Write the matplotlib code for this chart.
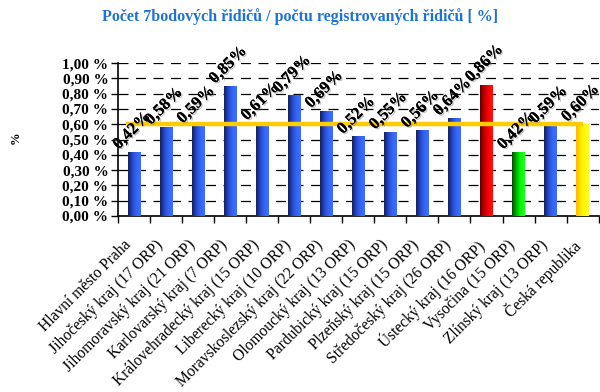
import matplotlib.pyplot as plt
import matplotlib.patheffects as pe
import numpy as np
from matplotlib.colors import LinearSegmentedColormap

regions = ['Hlavní město Praha', 'Jihočeský kraj (17 ORP)', 'Jihomoravský kraj (21 ORP)',
           'Karlovarský kraj (7 ORP)', 'Královehradecký kraj (15 ORP)', 'Liberecký kraj (10 ORP)',
           'Moravskoslezský kraj (22 ORP)', 'Olomoucký kraj (13 ORP)', 'Pardubický kraj (15 ORP)',
           'Plzeňský kraj (15 ORP)', 'Středočeský kraj (26 ORP)', 'Ústecký kraj (16 ORP)',
           'Vysočina (15 ORP)', 'Zlínský kraj (13 ORP)', 'Česká republika']
share = [0.42, 0.58, 0.59, 0.85, 0.61, 0.79, 0.69, 0.52, 0.55, 0.56, 0.64, 0.86, 0.42, 0.59, 0.60]
bar_style = ['blue'] * 11 + ['red', 'green', 'blue', 'yellow']

gradients = {
    'blue': ['#14205e', '#2748c4', '#3366ff', '#3d6eff'],
    'red': ['#600000', '#c00000', '#ff0000', '#ff1010'],
    'green': ['#004d00', '#00b000', '#00ff00', '#20ff20'],
    'yellow': ['#ffb800', '#ffe000', '#ffff00', '#ffff30'],
}

plt.rcParams['font.family'] = ['Liberation Serif', 'DejaVu Serif']

fig = plt.figure(figsize=(6, 3.92), dpi=100)
ax = fig.add_axes([0.1967, 0.449, 0.801, 0.39])

x = np.arange(len(regions))
bars = ax.bar(x, share, width=0.4, color='none', edgecolor='none', zorder=3)

# horizontal gradient inside each bar
ramp = np.linspace(0, 1, 64).reshape(1, -1)
for b, style in zip(bars, bar_style):
    cmap = LinearSegmentedColormap.from_list(style, gradients[style])
    x0, w, h = b.get_x(), b.get_width(), b.get_height()
    im = ax.imshow(ramp, cmap=cmap, extent=[x0, x0 + w, 0, h], aspect='auto', zorder=3)
    im.set_clip_path(b)

# national average line
ax.hlines(share[-1], -0.25, len(regions) - 1, color='#ffcc00', linewidth=3.2, zorder=4)

for xi, v in zip(x, share):
    ax.annotate(f'{v:.2f}%'.replace('.', ','), (xi, v), xytext=(-2, 21), textcoords='offset pixels',
                rotation=45, ha='center', va='center', fontsize=12, fontweight='bold',
                zorder=5, path_effects=[pe.withSimplePatchShadow(offset=(1, -1), shadow_rgbFace='gray', alpha=0.5),
                                        pe.Normal()])

# category names under the axis, rotated 45 degrees
for xi, name in zip(x, regions):
    ax.annotate(name, (xi, 0), xycoords=ax.get_xaxis_transform(), xytext=(-11, -21),
                textcoords='offset pixels', rotation=45, rotation_mode='anchor',
                ha='right', va='top', fontsize=11.2, annotation_clip=False)

ax.set_xlim(-0.5, len(regions) - 0.5)
ax.set_ylim(0, 1.0)
ax.set_yticks(np.arange(0, 1.01, 0.1))
ax.set_yticklabels([f'{t:.2f} %'.replace('.', ',') for t in np.arange(0, 1.01, 0.1)],
                   fontweight='bold', fontsize=11)
ax.yaxis.grid(True, color='black', linestyle=(0, (8, 6)), linewidth=0.9)
ax.set_axisbelow(True)

ax.set_xticks(np.arange(-0.5, len(regions)))
ax.set_xticklabels([])
ax.tick_params(axis='x', length=5, width=1, direction='out')
ax.tick_params(axis='y', length=5, width=1, direction='out', pad=2)

for side in ['top', 'right']:
    ax.spines[side].set_visible(False)
ax.spines['left'].set_linewidth(1.2)
ax.spines['bottom'].set_linewidth(1.2)

ax.set_ylabel('%', fontweight='bold', fontsize=9)
ax.yaxis.set_label_coords(-0.2, 0.51)

fig.text(0.5, 0.957, 'Počet 7bodových řidičů / počtu registrovaných řidičů [ %]', ha='center', va='center',
         color='#1e73d2', fontweight='bold', fontsize=11.5)

fig.savefig('out.png', dpi=100)
